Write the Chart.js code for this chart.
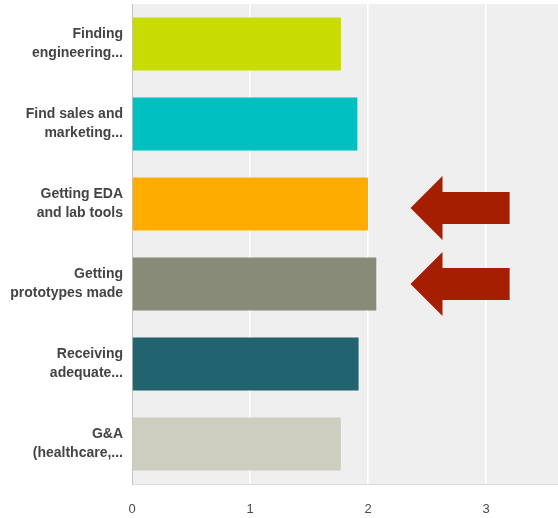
<!DOCTYPE html>
<html>
<head>
<meta charset="utf-8">
<script src="https://cdn.jsdelivr.net/npm/chart.js@4"></script>
<style>
  html, body { margin: 0; padding: 0; background: #fff; overflow: hidden; }
  .chartBox { width: 558px; height: 518px; }
</style>
</head>
<body>
<div class="chartBox">
  <canvas id="challengeChart"></canvas>
</div>
<script>
const categories = [
  ["Finding", "engineering..."],
  ["Find sales and", "marketing..."],
  ["Getting EDA", "and lab tools"],
  ["Getting", "prototypes made"],
  ["Receiving", "adequate..."],
  ["G&A", "(healthcare,..."]
];
const averageScores = [1.77, 1.91, 2.0, 2.07, 1.92, 1.77];
const barColors = ["#c8dc03", "#00c0c0", "#ffab00", "#878b78", "#21636e", "#cdcebd"];
const xTicks = [0, 1, 2, 3];
const xMax = 3.61;

// callout arrows: category position, tail value, tip value
const arrowCategories = [2.05, 3.0];
const arrowTail = 3.2;
const arrowTip = 2.36;

const plotBackground = {
  id: "plotBackground",
  beforeDraw(chart) {
    const { ctx, chartArea } = chart;
    ctx.save();
    ctx.fillStyle = "#efefef";
    ctx.fillRect(chartArea.left, chartArea.top, chartArea.right - chartArea.left, chartArea.bottom - chartArea.top);
    ctx.restore();
  }
};

const calloutArrows = {
  id: "calloutArrows",
  afterDatasetsDraw(chart) {
    const { ctx, scales } = chart;
    const band = scales.y.getPixelForValue(1) - scales.y.getPixelForValue(0);
    const headHalf = band * 0.4;
    const shaftHalf = band * 0.2;
    const headLen = band * 0.4;
    ctx.save();
    ctx.fillStyle = "#a51e00";
    arrowCategories.forEach((cat) => {
      const cy = scales.y.getPixelForValue(cat);
      const tipX = scales.x.getPixelForValue(arrowTip);
      const tailX = scales.x.getPixelForValue(arrowTail);
      const backX = tipX + headLen;
      ctx.beginPath();
      ctx.moveTo(tipX, cy);
      ctx.lineTo(backX, cy - headHalf);
      ctx.lineTo(backX, cy - shaftHalf);
      ctx.lineTo(tailX, cy - shaftHalf);
      ctx.lineTo(tailX, cy + shaftHalf);
      ctx.lineTo(backX, cy + shaftHalf);
      ctx.lineTo(backX, cy + headHalf);
      ctx.closePath();
      ctx.fill();
    });
    ctx.restore();
  }
};

new Chart(document.getElementById("challengeChart"), {
  type: "bar",
  data: {
    labels: categories,
    datasets: [{
      data: averageScores,
      backgroundColor: barColors,
      borderWidth: 0,
      categoryPercentage: 1,
      barPercentage: 0.66
    }]
  },
  options: {
    indexAxis: "y",
    responsive: true,
    maintainAspectRatio: false,
    animation: false,
    layout: { padding: { top: 4, right: 0, bottom: 0, left: 0 } },
    plugins: {
      legend: { display: false },
      tooltip: { enabled: false }
    },
    scales: {
      x: {
        min: 0,
        max: xMax,
        afterBuildTicks(scale) {
          scale.ticks = xTicks.map((v) => ({ value: v }));
        },
        afterFit(scale) {
          scale.height = 34;
          scale.paddingLeft = 0;
          scale.paddingRight = 0;
        },
        grid: {
          drawTicks: false,
          lineWidth: 1.5,
          color: (c) => (c.tick && c.tick.value === 0 ? "rgba(0,0,0,0)" : "#ffffff")
        },
        border: { color: "#dadada", width: 1 },
        ticks: {
          padding: 18,
          color: "#4a4a4a",
          font: { family: "Liberation Sans, Arial, sans-serif", size: 13 }
        }
      },
      y: {
        afterFit(scale) {
          scale.width = 132;
          scale.paddingTop = 0;
          scale.paddingBottom = 0;
        },
        grid: { display: false, drawTicks: false },
        border: { color: "#c4c4c4", width: 1 },
        ticks: {
          padding: 9,
          color: "#444444",
          font: { family: "Liberation Sans, Arial, sans-serif", size: 14, weight: "bold", lineHeight: 1.35 }
        }
      }
    }
  },
  plugins: [plotBackground, calloutArrows]
});
</script>
</body>
</html>
